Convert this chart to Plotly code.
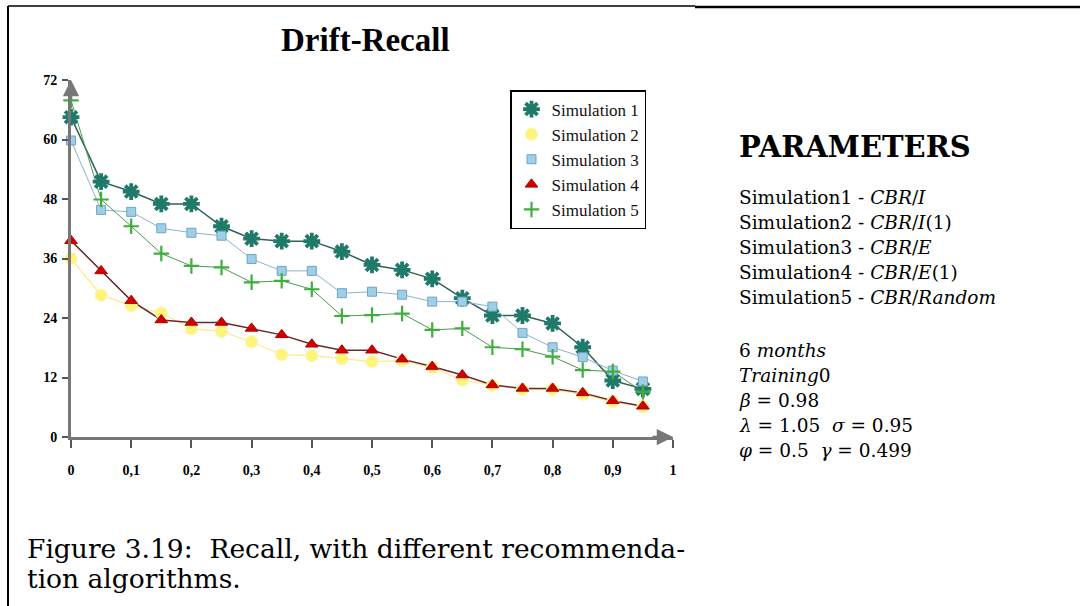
import plotly.graph_objects as go

# ---------------- data ----------------
x_vals = [0, 0.05, 0.1, 0.15, 0.2, 0.25, 0.3, 0.35, 0.4, 0.45,
          0.5, 0.55, 0.6, 0.65, 0.7, 0.75, 0.8, 0.85, 0.9, 0.95]
sim1 = [64.5, 51.5, 49.5, 47, 47, 42.5, 40, 39.5, 39.5, 37.4,
        34.7, 33.7, 31.9, 28.0, 24.5, 24.5, 22.9, 18.1, 11.4, 9.7]
sim2 = [36, 28.6, 26.5, 25, 21.8, 21.3, 19.2, 16.6, 16.4, 15.8,
        15.2, 15.4, 14.0, 11.5, 10.4, 9.6, 9.6, 8.6, 7.1, 6.1]
sim3 = [59.8, 45.8, 45.4, 42.1, 41.2, 40.6, 35.9, 33.5, 33.5, 29.0,
        29.3, 28.7, 27.3, 27.3, 26.3, 21.0, 18.1, 16.1, 13.4, 11.2]
sim4 = [39.6, 33.5, 27.5, 23.6, 23.1, 23.1, 21.9, 20.6, 18.7, 17.5,
        17.5, 15.7, 14.2, 12.5, 10.5, 9.8, 9.8, 8.9, 7.3, 6.2]
sim5 = [67.9, 47.9, 42.5, 37.0, 34.5, 34.2, 31.2, 31.5, 29.8, 24.4,
        24.6, 24.9, 21.6, 21.9, 18.1, 17.7, 16.2, 13.5, 13.2, 9.1]
series_names = ["Simulation 1", "Simulation 2", "Simulation 3", "Simulation 4", "Simulation 5"]
x_ticks = [0, 0.1, 0.2, 0.3, 0.4, 0.5, 0.6, 0.7, 0.8, 0.9, 1]
x_ticktext = ["0", "0,1", "0,2", "0,3", "0,4", "0,5", "0,6", "0,7", "0,8", "0,9", "1"]
y_ticks = [0, 12, 24, 36, 48, 60, 72]

param_lines = [
    "Simulation1 - <i>CBR</i>/<i>I</i>",
    "Simulation2 - <i>CBR</i>/<i>I</i>(1)",
    "Simulation3 - <i>CBR</i>/<i>E</i>",
    "Simulation4 - <i>CBR</i>/<i>E</i>(1)",
    "Simulation5 - <i>CBR</i>/<i>Random</i>",
]
param_lines2 = [
    "6 <i>months</i>",
    "<i>Training</i>0",
    "<i>β</i> = 0.98",
    "<i>λ</i> = 1.05  <i>σ</i> = 0.95",
    "<i>φ</i> = 0.5  <i>γ</i> = 0.499",
]

# ---------------- geometry ----------------
W, H = 1080, 606
L, R, T, B = 71, 673, 80, 437  # plot area in pixels


def px(xp):
    return (xp - L) / (R - L)


def py(yp):
    return (B - yp) / (B - T)


styles = [
    dict(line=dict(color="#2f6158", width=1.5),
         marker=dict(symbol="asterisk-open", size=14, color="#1f7a69",
                     line=dict(color="#1f7a69", width=3.8))),
    dict(line=dict(color="#ffe98a", width=1.2),
         marker=dict(symbol="circle", size=12, color="#fdf57a",
                     line=dict(color="#fff3b0", width=1))),
    dict(line=dict(color="#8ab4cc", width=1),
         marker=dict(symbol="square", size=9, color="#9fcfe8",
                     line=dict(color="#6fa4c2", width=1))),
    dict(line=dict(color="#6a2a2a", width=1.5),
         marker=dict(symbol="triangle-up", size=11, color="#d00000",
                     line=dict(color="#b00000", width=1))),
    dict(line=dict(color="#4b9c50", width=1),
         marker=dict(symbol="cross-thin-open", size=11, color="#3fae3f",
                     line=dict(color="#3fae3f", width=2.2))),
]

all_series = [sim1, sim2, sim3, sim4, sim5]

fig = go.Figure()
for i, (name, ys) in enumerate(zip(series_names, all_series)):
    st = styles[i]
    fig.add_trace(go.Scatter(x=x_vals, y=ys, mode="lines", line=st["line"],
                             showlegend=False, hoverinfo="skip", cliponaxis=False))
for i, (name, ys) in enumerate(zip(series_names, all_series)):
    st = styles[i]
    fig.add_trace(go.Scatter(x=x_vals, y=ys, mode="markers", name=name,
                             marker=st["marker"], cliponaxis=False))

axis_font = dict(family="Liberation Serif", size=14, color="#000", weight="bold")
fig.update_xaxes(range=[0, 1], tickvals=x_ticks, ticktext=x_ticktext,
                 showgrid=False, zeroline=False, showline=True,
                 linecolor="#777", linewidth=3, ticks="outside", ticklen=8,
                 tickwidth=2, tickcolor="#555", tickfont=axis_font,
                 ticklabelstandoff=10)
fig.update_yaxes(range=[0, 72], tickvals=y_ticks, showgrid=False, zeroline=False,
                 showline=True, linecolor="#777", linewidth=3, ticks="outside",
                 ticklen=6, tickwidth=2, tickcolor="#555", tickfont=axis_font,
                 ticklabelstandoff=2)

annotations = []
# axis arrows
annotations.append(dict(x=1, y=0, xref="x", yref="y", ax=-22, ay=0, text="",
                        showarrow=True, arrowhead=2, arrowsize=1.3, arrowwidth=2.5,
                        arrowcolor="#777", standoff=0))
annotations.append(dict(x=0, y=72, xref="x", yref="y", ax=0, ay=22, text="",
                        showarrow=True, arrowhead=2, arrowsize=1.3, arrowwidth=2.5,
                        arrowcolor="#777", standoff=0))

# title
annotations.append(dict(x=px(365), y=py(40), xref="paper", yref="paper",
                        text="<b>Drift-Recall</b>", showarrow=False,
                        xanchor="center", yanchor="middle",
                        font=dict(family="Liberation Serif", size=33, color="#000")))

# parameters block
serif = "DejaVu Serif"
annotations.append(dict(x=px(737), y=py(147), xref="paper", yref="paper",
                        text="<b>PARAMETERS</b>", showarrow=False,
                        xanchor="left", yanchor="middle",
                        font=dict(family=serif, size=29, color="#000")))
for k, t in enumerate(param_lines):
    annotations.append(dict(x=px(737), y=py(197 + k * 25), xref="paper", yref="paper",
                            text=t, showarrow=False, xanchor="left", yanchor="middle",
                            font=dict(family=serif, size=18.5, color="#000")))
for k, t in enumerate(param_lines2):
    annotations.append(dict(x=px(737), y=py(350 + k * 25), xref="paper", yref="paper",
                            text=t, showarrow=False, xanchor="left", yanchor="middle",
                            font=dict(family=serif, size=18.5, color="#000")))

# caption
annotations.append(dict(x=px(25), y=py(548), xref="paper", yref="paper",
                        text="Figure 3.19:  Recall, with different recommenda-",
                        showarrow=False, xanchor="left", yanchor="middle",
                        font=dict(family=serif, size=26.5, color="#000")))
annotations.append(dict(x=px(25), y=py(578), xref="paper", yref="paper",
                        text="tion algorithms.",
                        showarrow=False, xanchor="left", yanchor="middle",
                        font=dict(family=serif, size=26.5, color="#000")))

shapes = [
    dict(type="line", xref="paper", yref="paper", x0=px(8), x1=px(8),
         y0=py(6), y1=py(606), line=dict(color="#000", width=2)),
    dict(type="line", xref="paper", yref="paper", x0=px(8), x1=px(695),
         y0=py(6), y1=py(6), line=dict(color="#000", width=1.5)),
    dict(type="line", xref="paper", yref="paper", x0=px(695), x1=px(1080),
         y0=py(7), y1=py(7), line=dict(color="#000", width=2.5)),
]

fig.update_layout(
    width=W, height=H, autosize=False,
    margin=dict(l=L, r=W - R, t=T, b=H - B, pad=0),
    paper_bgcolor="white", plot_bgcolor="white",
    showlegend=True,
    legend=dict(x=px(510), y=py(90), xanchor="left", yanchor="top",
                bgcolor="white", bordercolor="#000", borderwidth=1.5,
                font=dict(family="Liberation Serif", size=17, color="#111"),
                itemwidth=30, traceorder="normal"),
    annotations=annotations,
    shapes=shapes,
)

fig.write_html("out.html", config={"displayModeBar": False},
               post_script="document.body.style.margin='0px';document.body.style.overflow='hidden';")
